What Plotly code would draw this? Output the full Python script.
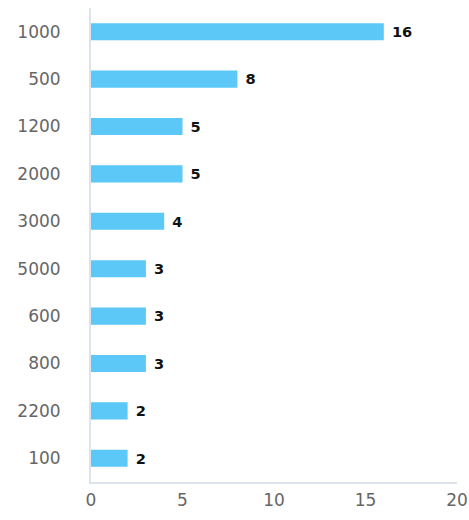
import plotly.graph_objects as go

categories = ["1000", "500", "1200", "2000", "3000", "5000", "600", "800", "2200", "100"]
values = [16, 8, 5, 5, 4, 3, 3, 3, 2, 2]
x_ticks = [0, 5, 10, 15, 20]

fig = go.Figure(go.Bar(
    y=categories,
    x=values,
    orientation="h",
    marker=dict(color="#5BC8F7", line=dict(width=0)),
    width=0.36,
    text=[" " + str(v) for v in values],
    textposition="outside",
    textfont=dict(family="DejaVu Sans", size=18, color="#111111", weight="bold"),
    cliponaxis=False,
))

fig.update_layout(
    width=469, height=520,
    margin=dict(l=91, r=12, t=8, b=38),
    paper_bgcolor="white", plot_bgcolor="white",
    showlegend=False,
    font=dict(family="DejaVu Sans", size=17, color="#666666"),
)
fig.update_yaxes(
    autorange="reversed", automargin=False,
    showline=True, linecolor="#dde3ea", linewidth=2,
    showgrid=False, ticks="", ticklabelstandoff=25,
    tickfont=dict(size=17, color="#666666"),
)
fig.update_xaxes(
    range=[0, 20], tickvals=x_ticks, automargin=False,
    showline=True, linecolor="#dde3ea", linewidth=2,
    showgrid=False, zeroline=False, ticks="", ticklabelstandoff=2,
    tickfont=dict(size=17, color="#666666"),
)

fig.write_html(
    "out.html",
    config={"displayModeBar": False},
    post_script="document.body.style.margin='0';document.body.style.overflow='hidden';",
)
